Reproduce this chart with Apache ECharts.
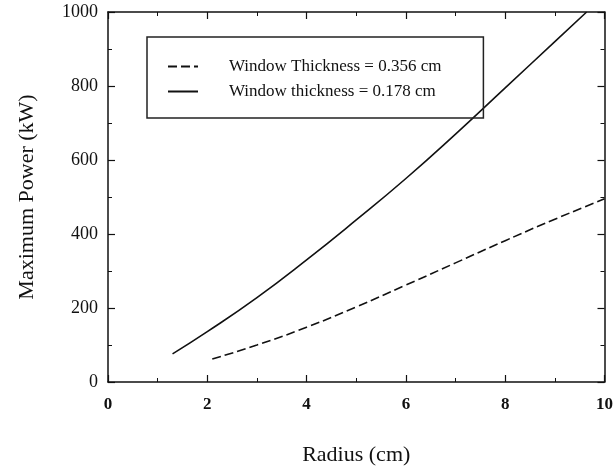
<!DOCTYPE html>
<html><head><meta charset="utf-8">
<script src="https://cdn.jsdelivr.net/npm/echarts@6/dist/echarts.min.js"></script>
<style>html,body{margin:0;padding:0;background:#fff}#c{width:616px;height:471px}</style>
</head><body><div id="c"></div>
<script>
const seriesNames = ['Window Thickness = 0.356 cm', 'Window thickness = 0.178 cm'];
const radiusThick = [2.1, 3, 4, 5, 6, 7, 8, 9, 10];
const powerThick  = [62, 100, 148, 203, 262, 322, 382, 440, 495];
const radiusThin  = [1.3, 2, 3, 4, 5, 6, 7, 8, 9, 9.64];
const powerThin   = [76, 136, 228, 330, 438, 550, 670, 795, 920, 1000];
const xTicks = [0, 2, 4, 6, 8, 10];
const yTicks = [0, 200, 400, 600, 800, 1000];

const pairs = (xs, ys) => xs.map((x, i) => [x, ys[i]]);
const font = 'Liberation Serif';
const axisCommon = {
  type: 'value',
  axisLine: {show: true, onZero: false, lineStyle: {color: '#111', width: 1.5}},
  axisTick: {show: true, inside: true, length: 7, lineStyle: {color: '#111', width: 1.2}},
  minorTick: {show: true, splitNumber: 2, length: 4, lineStyle: {color: '#111', width: 1}},
  splitLine: {show: false}
};
const chart = echarts.init(document.getElementById('c'), null, {renderer: 'canvas'});
chart.setOption({
  animation: false,
  backgroundColor: '#fff',
  grid: {left: 108, right: 8, top: 12, bottom: 89},
  legend: {
    orient: 'vertical', left: 147, top: 37,
    data: seriesNames,
    borderColor: '#222', borderWidth: 1.5, borderRadius: 0,
    padding: [21, 42, 18, 20],
    itemWidth: 30, itemHeight: 14, itemGap: 8,
    itemStyle: {opacity: 0},
    textStyle: {fontFamily: font, fontSize: 17, color: '#111', padding: [0, 0, 0, 26]}
  },
  xAxis: [
    Object.assign({}, axisCommon, {
      position: 'bottom', min: xTicks[0], max: xTicks[xTicks.length - 1], interval: 2,
      name: 'Radius (cm)', nameLocation: 'middle', nameGap: 62,
      nameTextStyle: {fontFamily: font, fontSize: 22, color: '#111'},
      axisLabel: {margin: 14, fontFamily: font, fontSize: 17, fontWeight: 'bold', color: '#111'}
    }),
    Object.assign({}, axisCommon, {
      position: 'top', min: xTicks[0], max: xTicks[xTicks.length - 1], interval: 2,
      axisLabel: {show: false}
    })
  ],
  yAxis: [
    Object.assign({}, axisCommon, {
      position: 'left', min: yTicks[0], max: yTicks[yTicks.length - 1], interval: 200,
      name: 'Maximum Power (kW)', nameLocation: 'middle', nameGap: 70,
      nameTextStyle: {fontFamily: font, fontSize: 22, color: '#111'},
      axisLabel: {margin: 10, fontFamily: font, fontSize: 18, color: '#111',
        formatter: v => String(v)}
    }),
    Object.assign({}, axisCommon, {
      position: 'right', min: yTicks[0], max: yTicks[yTicks.length - 1], interval: 200,
      axisLabel: {show: false}
    })
  ],
  series: [
    {
      name: seriesNames[0], type: 'line', symbol: 'none', smooth: true,
      data: pairs(radiusThick, powerThick),
      lineStyle: {color: '#111', width: 1.6, type: [9, 4]},
      itemStyle: {color: '#111'}
    },
    {
      name: seriesNames[1], type: 'line', symbol: 'none', smooth: true,
      data: pairs(radiusThin, powerThin),
      lineStyle: {color: '#111', width: 1.6, type: 'solid'},
      itemStyle: {color: '#111'}
    }
  ]
});
</script></body></html>
